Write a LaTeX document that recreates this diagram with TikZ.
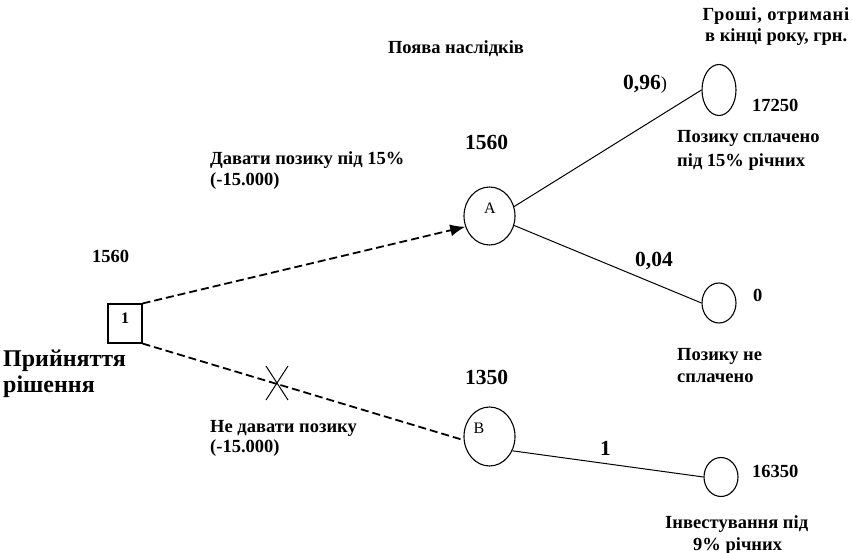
\documentclass[tikz,border=0pt]{standalone}
\usepackage{fontspec}
\setmainfont{Liberation Serif}
\usetikzlibrary{arrows.meta,shapes.geometric,calc}
\begin{document}
\begin{tikzpicture}[x=1pt,y=-1pt,
  lbl/.style={font=\bfseries\fontsize{18.5}{22}\selectfont, inner sep=0pt, anchor=base west},
  big/.style={font=\bfseries\fontsize{21.5}{24}\selectfont, inner sep=0pt, anchor=base west},
  title/.style={font=\bfseries\fontsize{24}{26}\selectfont, inner sep=0pt, anchor=base west},
  circ/.style={draw, line width=1.1pt, ellipse, inner sep=0pt},
  branch/.style={line width=1pt},
  dbranch/.style={line width=1.8pt, dash pattern=on 8pt off 4pt}]
\useasboundingbox (0,0) rectangle (852,553);
% decision node
\node[draw, line width=1.1pt, minimum width=34pt, minimum height=39pt, inner sep=0pt] (d) at (125,323.5) {};
\node[font=\bfseries\fontsize{16}{18}\selectfont, inner sep=0pt] (dlab) at (125,318) {1};
% chance nodes
\node[circ, minimum width=51pt, minimum height=58pt] (A) at (489.5,216) {};
\node[font=\fontsize{16}{18}\selectfont, inner sep=0pt] (Alab) at (490,208.5) {A};
\node[circ, minimum width=51pt, minimum height=59pt] (B) at (489.5,436.5) {};
\node[font=\fontsize{16}{18}\selectfont, inner sep=0pt] (Blab) at (479,428.5) {B};
% leaves
\node[circ, minimum width=34pt, minimum height=51pt] (L1) at (719,90) {};
\node[circ, minimum width=34pt, minimum height=40pt] (L2) at (719,303) {};
\node[circ, minimum width=34pt, minimum height=39pt] (L3) at (721,477) {};
% connectors
\draw[dbranch, -{Latex[length=15pt,width=12pt]}] (d.north east) -- (A.204);
\draw[dbranch] (d.south east) -- (B.188);
\draw[branch] (A.21) -- (L1.west);
\draw[branch] (A.-21) -- (L2.west);
\draw[branch] (B.-32) -- (L3.west);
% cross mark
\coordinate (xm) at (277,383);
\draw[line width=1pt] ($(xm)+(-11,-17)$) -- ($(xm)+(11,17)$);
\draw[line width=1pt] ($(xm)+(11,-17)$) -- ($(xm)+(-11,17)$);
% texts
\node[lbl, anchor=base, font=\bfseries\fontsize{18.5}{22}\selectfont\addfontfeatures{LetterSpace=4}] (t1a) at (776,21) {Гроші, отримані};
\node[lbl] (t1b) at (705,42) {в кінці року, грн.};
\node[lbl, anchor=base] (t2) at (456,54) {Поява наслідків};
\node[big] (p1) at (623,90) {0,96\textmd{\fontsize{18.5}{20}\selectfont)}};
\node[lbl] (v1) at (752,112) {17250};
\node[lbl] (t3a) at (677,143) {Позику сплачено};
\node[lbl] (t3b) at (677,167) {під 15\% річних};
\node[big] (e1) at (465,150) {1560};
\node[lbl] (t4a) at (210,165) {Давати позику під 15\%};
\node[lbl] (t4b) at (210,186) {(-15.000)};
\node[lbl] (e0) at (92,263) {1560};
\node[big] (p2) at (635,267) {0,04};
\node[lbl] (v2) at (753,302) {0};
\node[title] (t5a) at (3,367) {Прийняття};
\node[title] (t5b) at (3,393) {рішення};
\node[lbl] (t6a) at (677,361) {Позику не};
\node[lbl] (t6b) at (677,383) {сплачено};
\node[big] (e2) at (465,385) {1350};
\node[lbl] (t7a) at (210,432) {Не давати позику};
\node[lbl] (t7b) at (210,453) {(-15.000)};
\node[big] (p3) at (600,455) {1};
\node[lbl] (v3) at (752,477) {16350};
\node[lbl] (t8a) at (665,528) {Інвестування під};
\node[lbl] (t8b) at (693,550) {9\% річних};
\end{tikzpicture}
\end{document}
